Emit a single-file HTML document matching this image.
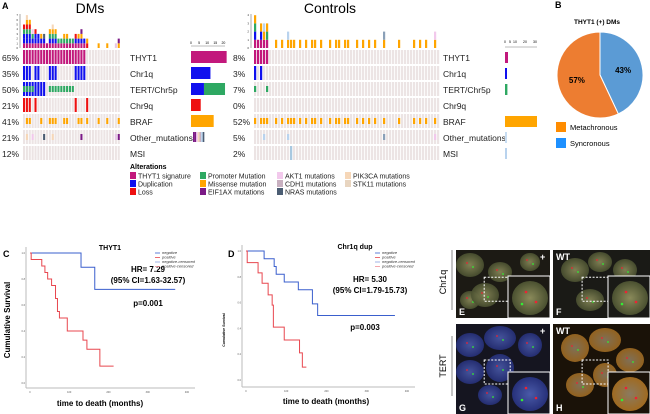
<!DOCTYPE html>
<html><head><meta charset="utf-8"><style>
body{margin:0;background:#fff;width:650px;height:414px;overflow:hidden;font-family:"Liberation Sans",sans-serif}
svg{display:block}
</style></head><body>
<svg id="s" width="650" height="414" viewBox="0 0 650 414" xmlns="http://www.w3.org/2000/svg" font-family="Liberation Sans, sans-serif">
<defs>
<radialGradient id="cellG" cx="50%" cy="50%" r="50%"><stop offset="0" stop-color="#8a8a5a"/><stop offset="1" stop-color="#4a5030"/></radialGradient>
<radialGradient id="cellB" cx="50%" cy="50%" r="50%"><stop offset="0" stop-color="#4a5aa8"/><stop offset="1" stop-color="#26307a"/></radialGradient>
<radialGradient id="cellO" cx="50%" cy="50%" r="50%"><stop offset="0" stop-color="#8a7a60"/><stop offset="1" stop-color="#a06a20"/></radialGradient>
</defs>
<g id="onco"></g>
<g id="pie"></g>
<g id="km"></g>
<g id="micro"></g>
</svg>
<script>
const NS="http://www.w3.org/2000/svg";
function el(tag,attrs,parent,text){const e=document.createElementNS(NS,tag);for(const k in attrs)e.setAttribute(k,attrs[k]);if(text!==undefined)e.textContent=text;(parent||document.getElementById('s')).appendChild(e);return e;}

const rowNames=["THYT1","Chr1q","TERT/Chr5p","Chr9q","BRAF","Other_mutations","MSI"];
const dmPct=["65%","35%","50%","21%","41%","21%","12%"];
const ctPct=["8%","3%","7%","0%","52%","5%","2%"];
const dmN=34, ctN=62;
const dmThyt=[0,1,2,3,4,5,6,7,8,9,10,11,12,13,14,15,16,17,18,19,20,21];
const dmChr1q=[0,1,2,4,5,9,10,11,18,19,20,21];
const dmTertDup=[0,1,2,3,4,5,6,7];
const dmTertProm=[0,1,2,3,9,10,11,12,13,14,15,16,17];
const dmChr9q=[0,1,2,4,18,22];
const dmBraf=[1,2,6,9,10,11,14,15,19,20,22,26,29,33];
const dmOther=[[1,"#f6d7b8"],[3,"#f2c9ec"],[7,"#4b5d73"],[10,"#f6d7b8"],[20,"#7b1a86"],[32,"#e7c6e6"],[33,"#7b1a86"]];
const ctThyt=[0,1,2,3,4];
const ctChr1q=[0,2];
const ctTertProm=[0,4];
const ctBraf=[0,2,3,4,7,9,11,12,13,15,17,19,20,22,25,27,28,30,31,34,36,38,40,43,48,53,55,57,60];
const ctOther=[[3,"#b9d3ee"],[11,"#b9d3ee"],[43,"#8aa0b8"],[60,"#f2c9ec"]];
const ctMsi=[12];
const dmBarCounts=[22,12,[8,13],6,14,7];
const ctBarCounts=[5,2,4,0,32,3,1];
const pieVals=[57,43];
const pieLabels=["57%","43%"];
const cNegT=[0,130,165,370], cNegS=[1.0,0.89,0.72,0.72];
const cPosT=[0,3,30,38,45,55,65,70,75,95,135,145,178,213], cPosS=[1,0.95,0.9,0.85,0.8,0.75,0.65,0.55,0.5,0.4,0.33,0.26,0.13,0.13];
const dNegT=[0,45,70,75,95,130,165,178,370], dNegS=[1,0.94,0.88,0.82,0.76,0.70,0.59,0.5,0.5];
const dPosT=[0,3,30,40,55,65,68,95,133,140,150], dPosS=[1,0.91,0.83,0.75,0.66,0.58,0.41,0.31,0.21,0.1,0.1];

const C={thyt:"#c2187c",dup:"#1010ee",loss:"#ee1010",prom:"#2ea862",mis:"#ffa500",eif:"#7b1a86",bg:"#ece4e4"};
const og=document.getElementById('onco');
let t;
t=el('text',{x:2,y:9,'font-size':9,'font-weight':'bold'},og,'A');

t=el('text',{x:90,y:13,'font-size':14,'text-anchor':'middle'},og,'DMs');

t=el('text',{x:330,y:13,'font-size':14,'text-anchor':'middle'},og,'Controls');


function rowY(i){return 50+i*16;}
function drawGrid(x0,w,n){
  for(let r=0;r<7;r++)for(let c=0;c<n;c++){
    el('rect',{x:x0+c*w,y:rowY(r),width:w-0.8,height:14,fill:C.bg},og);
  }
}
function cell(x0,w,c,r,col,half){
  const b=el('rect',{x:x0+c*w,y:rowY(r)+(half?4:0),width:w-0.8,height:half?6:14,fill:col},og);
  
}
const dx=23,dw=2.87;
drawGrid(dx,dw,dmN);
dmThyt.forEach(c=>cell(dx,dw,c,0,C.thyt));
dmChr1q.forEach(c=>cell(dx,dw,c,1,C.dup));
dmTertDup.forEach(c=>cell(dx,dw,c,2,C.dup));
dmTertProm.forEach(c=>cell(dx,dw,c,2,C.prom,true));
dmChr9q.forEach(c=>cell(dx,dw,c,3,C.loss));
dmBraf.forEach(c=>cell(dx,dw,c,4,C.mis,true));
dmOther.forEach(o=>cell(dx,dw,o[0],5,o[1],true));
function stack(x0,w,n,lists,unit){
  for(let c=0;c<n;c++){
    let y=48;
    lists.forEach(([arr,col])=>{
      const has=arr.some(a=>Array.isArray(a)?a[0]===c:a===c);
      if(has){const cc=Array.isArray(col)?arr.find(a=>a[0]===c)[1]:col;
        const b=el('rect',{x:x0+c*w,y:y-unit,width:w-0.8,height:unit,fill:cc},og);
        y-=unit;}
    });
  }
}
stack(dx,dw,dmN,[[dmThyt,C.thyt],[dmChr1q,C.dup],[dmTertDup,C.dup],[dmTertProm,C.prom],[dmChr9q,C.loss],[dmBraf,C.mis],[dmOther,[]]],4.7);
el('line',{x1:20,y1:14,x2:20,y2:48,stroke:'#555','stroke-width':0.5},og);
for(let k=0;k<=7;k++){el('text',{x:18,y:49-k*4.7,'font-size':3,'text-anchor':'end',fill:'#333'},og,k);}
const cx0=254,cw=3.0;
drawGrid(cx0,cw,ctN);
ctThyt.forEach(c=>cell(cx0,cw,c,0,C.thyt));
ctChr1q.forEach(c=>cell(cx0,cw,c,1,C.dup));
ctTertProm.forEach(c=>cell(cx0,cw,c,2,C.prom,true));
ctBraf.forEach(c=>cell(cx0,cw,c,4,C.mis,true));
ctOther.forEach(o=>cell(cx0,cw,o[0],5,o[1],true));
ctMsi.forEach(c=>cell(cx0,cw,c,6,"#a8c8e0"));
stack(cx0,cw,ctN,[[ctThyt,C.thyt],[ctChr1q,C.dup],[ctTertProm,C.prom],[ctBraf,C.mis],[ctOther,[]]],8.2);
el('line',{x1:251,y1:14,x2:251,y2:48,stroke:'#555','stroke-width':0.5},og);
for(let k=0;k<=4;k++){el('text',{x:249,y:49-k*8.2,'font-size':3,'text-anchor':'end',fill:'#333'},og,k);}
rowNames.forEach((n,i)=>{
  let a=el('text',{x:2,y:rowY(i)+11,'font-size':8.5,fill:'#222'},og,dmPct[i]);
  
  a=el('text',{x:130,y:rowY(i)+11,'font-size':8.5,fill:'#222'},og,n);
  
  a=el('text',{x:233,y:rowY(i)+11,'font-size':8.5,fill:'#222'},og,ctPct[i]);
  
  a=el('text',{x:443,y:rowY(i)+11,'font-size':8.5,fill:'#222'},og,n);
  
});
function xb(v,x0,px){return x0+v*px;}
const dbx=191,dbp=1.62;
[0,5,10,15,20].forEach(v=>el('text',{x:xb(v,dbx,dbp),y:44,'font-size':3.5,'text-anchor':'middle'},og,v));
el('line',{x1:dbx,y1:46,x2:xb(21,dbx,dbp),y2:46,stroke:'#555','stroke-width':0.4},og);
const dbCols=[C.thyt,C.dup,null,C.loss,C.mis];
dmBarCounts.forEach((v,i)=>{
  const y=rowY(i)+1;
  if(Array.isArray(v)){
    let b=el('rect',{x:dbx,y,width:v[0]*dbp,height:12,fill:C.dup},og);
    b=el('rect',{x:xb(v[0],dbx,dbp),y,width:v[1]*dbp,height:12,fill:C.prom},og);
  } else if(i===5){
    const cs=["#7b1a86","#7b1a86","#f2c9ec","#f6d7b8","#c8b0c0","#b9d3ee","#4b5d73"];
    for(let k=0;k<v;k++){const b=el('rect',{x:dbx+2+k*dbp,y:y+1,width:dbp,height:10,fill:cs[k]},og);}
  } else {
    const b=el('rect',{x:dbx,y,width:v*dbp,height:12,fill:dbCols[i]},og);
  }
});
const cbx=505,cbp=1.0;
[0,5,10,20,30].forEach(v=>el('text',{x:xb(v,cbx,cbp),y:43,'font-size':3.5,'text-anchor':'middle'},og,v));
el('line',{x1:cbx,y1:47,x2:xb(32,cbx,cbp),y2:47,stroke:'#555','stroke-width':0.4},og);
const cbCols=[C.thyt,C.dup,C.prom,C.loss,C.mis,"#c8ddf2","#b9d3ee"];
ctBarCounts.forEach((v,i)=>{
  const w=i===4?v*cbp:Math.max(v*cbp*0.6,v?2:0);
  const b=el('rect',{x:cbx,y:rowY(i)+2,width:w,height:11,fill:cbCols[i]},og);
  
});
t=el('text',{x:130,y:169,'font-size':7,'font-weight':'bold'},og,'Alterations');

const leg=[[130,172,C.thyt,"THYT1 signature"],[130,180,C.dup,"Duplication"],[130,188,C.loss,"Loss"],
[200,172,C.prom,"Promoter Mutation"],[200,180,C.mis,"Missense mutation"],[200,188,C.eif,"EIF1AX mutations"],
[277,172,"#f2c9ec","AKT1 mutations"],[277,180,"#c8b0c0","CDH1 mutations"],[277,188,"#4b5d73","NRAS mutations"],
[345,172,"#f6d7b8","PIK3CA mutations"],[345,180,"#e8d5c0","STK11 mutations"]];
leg.forEach(l=>{
  const r=el('rect',{x:l[0],y:l[1],width:6,height:7,fill:l[2]},og);
  const tx=el('text',{x:l[0]+8,y:l[1]+6.5,'font-size':7,fill:'#222'},og,l[3]);
});

const pg=document.getElementById('pie');
t=el('text',{x:555,y:8,'font-size':9,'font-weight':'bold'},pg,'B');
t=el('text',{x:597,y:24,'font-size':6.5,'font-weight':'bold','text-anchor':'middle'},pg,'THYT1 (+) DMs');
const pcx=600,pcy=75,pr=43,pieCols=["#ed7d31","#5b9bd5"],pieNames=["metachronous-slice","syncronous-slice"];
const tot=pieVals.reduce((a,b)=>a+b,0);
let a0=-Math.PI/2;
[1,0].forEach(i=>{
  const a1=a0+pieVals[i]/tot*2*Math.PI;
  const large=(a1-a0)>Math.PI?1:0;
  const p=el('path',{d:`M${pcx},${pcy} L${pcx+pr*Math.cos(a0)},${pcy+pr*Math.sin(a0)} A${pr},${pr} 0 ${large} 1 ${pcx+pr*Math.cos(a1)},${pcy+pr*Math.sin(a1)} Z`,fill:pieCols[i],stroke:'#fff','stroke-width':1},pg);
  
  const am=(a0+a1)/2;
  const lx=el('text',{x:pcx+pr*0.55*Math.cos(am),y:pcy+pr*0.55*Math.sin(am)+3,'font-size':8,'font-weight':'bold','text-anchor':'middle'},pg,pieLabels[i]);
  
  a0=a1;
});
[["#ff8c00","Metachronous",122],["#1e90ff","Syncronous",138]].forEach(l=>{
  const r=el('rect',{x:556,y:l[2],width:10,height:10,fill:l[0]},pg);
  const tx=el('text',{x:570,y:l[2]+8,'font-size':7.5},pg,l[1]);
});

const kg=document.getElementById('km');
function km(o){
  const X=v=>o.x0+v/400*(o.x1-o.x0), Y=v=>o.y1-v*(o.y1-o.y0);
  el('line',{x1:o.x0-4,y1:o.y0-6,x2:o.x0-4,y2:o.axy,stroke:'#bbb','stroke-width':1},kg);
  el('line',{x1:o.x0-4,y1:o.axy,x2:o.x1+8,y2:o.axy,stroke:'#bbb','stroke-width':1},kg);
  [0,100,200,300,400].forEach(v=>el('text',{x:X(v),y:o.axy+5,'font-size':2.5,'text-anchor':'middle',fill:'#555'},kg,v));
  [0,0.2,0.4,0.6,0.8,1.0].forEach(v=>el('text',{x:o.x0-5,y:Y(v)+1,'font-size':2.5,'text-anchor':'end',fill:'#555'},kg,v.toFixed(1)));
  [[o.negT,o.negS,'#3a5fcd','negative-curve'],[o.posT,o.posS,'#e8474f','positive-curve']].forEach(([T,S,col,nm])=>{
    let d=`M${X(T[0])},${Y(S[0])}`;
    for(let i=1;i<T.length;i++){d+=` H${X(T[i])} V${Y(S[i])}`;}
    const p=el('path',{d,fill:'none',stroke:col,'stroke-width':1},kg);
    
  });
}
km({x0:30,x1:187,y0:253,y1:383,axy:388,negT:cNegT,negS:cNegS,posT:cPosT,posS:cPosS});
km({x0:246,x1:407,y0:251,y1:380,axy:387,negT:dNegT,negS:dNegS,posT:dPosT,posS:dPosS});
function txt(x,y,s,str,o,name){const e=el('text',Object.assign({x,y,'font-size':s},o||{}),kg,str);return e;}
txt(3,257,9,'C',{'font-weight':'bold'},'panel-label-c');
txt(110,250,7,'THYT1',{'font-weight':'bold','text-anchor':'middle'},'km-c-title');
txt(148,272,8,'HR= 7.29',{'font-weight':'bold','text-anchor':'middle'},'hr-c');
txt(148,283,8,'(95% CI=1.63-32.57)',{'font-weight':'bold','text-anchor':'middle'},'ci-c');
txt(148,306,8,'p=0.001',{'font-weight':'bold','text-anchor':'middle'},'p-c');
txt(100,406,8,'time to death (months)',{'font-weight':'bold','text-anchor':'middle'},'x-axis-title-c');
txt(10,320,8,'Cumulative Survival',{'font-weight':'bold','text-anchor':'middle',transform:'rotate(-90 10 320)'},'y-axis-title-c');
txt(228,257,9,'D',{'font-weight':'bold'},'panel-label-d');
txt(355,249,7,'Chr1q dup',{'font-weight':'bold','text-anchor':'middle'},'km-d-title');
txt(370,282,8,'HR= 5.30',{'font-weight':'bold','text-anchor':'middle'},'hr-d');
txt(370,293,8,'(95% CI=1.79-15.73)',{'font-weight':'bold','text-anchor':'middle'},'ci-d');
txt(365,330,8,'p=0.003',{'font-weight':'bold','text-anchor':'middle'},'p-d');
txt(326,404,8,'time to death (months)',{'font-weight':'bold','text-anchor':'middle'},'x-axis-title-d');
txt(225,330,3.5,'Cumulative Survival',{'font-weight':'bold','text-anchor':'middle',transform:'rotate(-90 225 330)'},'y-axis-title-d');
[155,375].forEach(lx=>{
  const lab=["negative","positive","negative-censored","positive-censored"],cl=['#3a5fcd','#e8474f','#8aa0e0','#f09098'];
  lab.forEach((s,i)=>{
    el('line',{x1:lx,y1:254+i*4.5-1,x2:lx+5,y2:254+i*4.5-1,stroke:cl[i],'stroke-width':0.8},kg);
    txt(lx+7,254+i*4.5,4,s,{fill:'#333','font-style':'italic'},'km-legend-entry');
  });
});

const mg=document.getElementById('micro');
el('line',{x1:452,y1:250,x2:452,y2:310,stroke:'#888','stroke-width':1},mg);
el('line',{x1:452,y1:336,x2:452,y2:396,stroke:'#888','stroke-width':1},mg);
let mt=el('text',{x:446,y:282,'font-size':9,'text-anchor':'middle',transform:'rotate(-90 446 282)'},mg,'Chr1q');
mt=el('text',{x:446,y:366,'font-size':9,'text-anchor':'middle',transform:'rotate(-90 446 366)'},mg,'TERT');
const panels=[
 {x:456,y:250,w:94,h:68,bg:'#1c1a14',cg:'url(#cellG)',L:'E',tag:'+',cells:[[470,265,14,12],[500,272,12,10],[530,262,10,9],[470,300,10,9],[485,295,14,12]]},
 {x:553,y:250,w:97,h:68,bg:'#1a1a16',cg:'url(#cellG)',L:'F',tag:'WT',cells:[[575,270,14,12],[600,262,12,10],[625,270,12,11],[590,300,14,11]]},
 {x:456,y:324,w:94,h:90,bg:'#151520',cg:'url(#cellB)',L:'G',tag:'+',cells:[[470,345,14,12],[500,338,16,12],[470,372,14,12],[500,368,14,14],[530,345,12,12],[490,395,12,10]]},
 {x:553,y:324,w:97,h:90,bg:'#1a1208',cg:'url(#cellO)',L:'H',tag:'WT',cells:[[575,348,14,14],[605,340,16,12],[630,360,14,12],[580,385,14,12],[605,375,12,12]]}
];
panels.forEach(p=>{
  const r=el('rect',{x:p.x,y:p.y,width:p.w,height:p.h,fill:p.bg},mg);
  
  p.cells.forEach(c=>{el('ellipse',{cx:c[0],cy:c[1],rx:c[2],ry:c[3],fill:p.cg,opacity:0.9},mg);
    el('circle',{cx:c[0]-3,cy:c[1]-2,r:0.9,fill:'#e23'},mg);el('circle',{cx:c[0]+3,cy:c[1]+2,r:0.9,fill:'#3e3'},mg);});
  const ix=p.x+p.w-42, iy=p.y+p.h-42;
  el('rect',{x:p.x+p.w*0.3,y:p.y+p.h*0.4,width:26,height:24,fill:'none',stroke:'#fff','stroke-width':1,'stroke-dasharray':'2,1.5'},mg);
  const ins=el('rect',{x:ix,y:iy,width:42,height:42,fill:p.bg,stroke:'#fff','stroke-width':1},mg);
  
  el('ellipse',{cx:ix+22,cy:iy+22,rx:18,ry:17,fill:p.cg},mg);
  el('circle',{cx:ix+18,cy:iy+16,r:1.3,fill:'#e23'},mg);el('circle',{cx:ix+28,cy:iy+26,r:1.3,fill:'#e23'},mg);el('circle',{cx:ix+14,cy:iy+28,r:1.3,fill:'#3e3'},mg);
  let l=el('text',{x:p.x+3,y:p.y+p.h-3,'font-size':9,'font-weight':'bold',fill:'#fff'},mg,p.L);
  l=el('text',{x:p.tag==='+'?p.x+p.w-10:p.x+3,y:p.y+10,'font-size':9,'font-weight':'bold',fill:'#fff'},mg,p.tag);
});
</script>
</body></html>
